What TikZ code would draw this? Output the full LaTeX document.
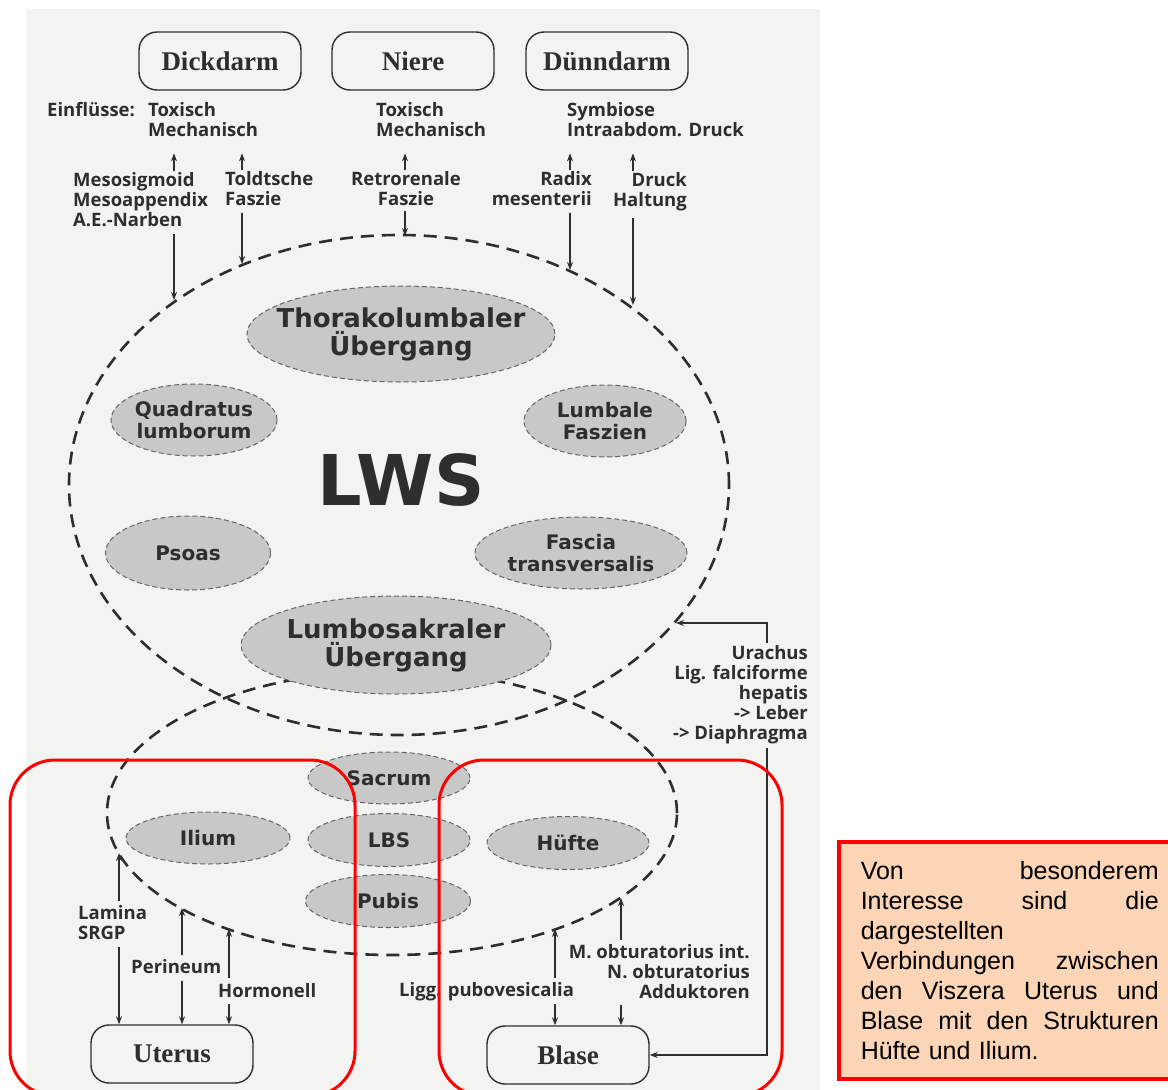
\documentclass[tikz,border=0pt]{standalone}
\usepackage{fontspec}
\setmainfont{Liberation Serif}
\newfontfamily\tagfont{Open Sans}
\newfontfamily\ovalfont{DejaVu Sans}
\newfontfamily\notefont{Liberation Sans}
\usetikzlibrary{arrows.meta,shapes.geometric}
\definecolor{scan}{HTML}{F3F3F1}
\definecolor{ink}{HTML}{2E2E2E}
\definecolor{ovalgray}{HTML}{C8C8C8}
\definecolor{notefill}{HTML}{FBD5B5}
\newcommand\spreadline[1]{\makebox[298pt]{#1}}
\tikzset{
 organ/.style={draw=ink,line width=1.4pt,rounded corners=18pt,minimum width=162pt,minimum height=58pt,inner sep=0,text=ink,font=\bfseries\fontsize{27}{30}\selectfont},
 tag/.style={inner sep=0,align=left,text=ink,font=\tagfont\bfseries\fontsize{18.5}{20}\selectfont},
 ring/.style={ellipse,draw=ink,line width=2.6pt,dash pattern=on 13pt off 8pt,inner sep=0},
 oval/.style={ellipse,draw=black!60,line width=1pt,dash pattern=on 5pt off 3pt,fill=ovalgray,inner sep=-25pt,align=center,text=ink,font=\ovalfont\bfseries\fontsize{20}{22}\selectfont},
 bigoval/.style={oval,font=\ovalfont\bfseries\fontsize{26}{28}\selectfont},
 link/.style={draw=ink,line width=1.5pt,-{Stealth[length=8pt,width=6pt]}},
 focus/.style={draw=red,line width=3pt,rounded corners=45pt}
}
\begin{document}
\begin{tikzpicture}[x=1pt,y=-1pt]
\useasboundingbox (0,0) rectangle (1168,1090);
\clip (0,0) rectangle (1168,1090);
\fill[white] (0,0) rectangle (1168,1090);
\fill[scan] (26,9) rectangle (820,1090);
% the two regions
\node[ring,minimum width=660pt,minimum height=500pt] (lws) at (399,485) {};
\node[ring,minimum width=570pt,minimum height=284pt] (becken) at (392,813) {};
\node[bigoval,minimum width=308pt,minimum height=96pt] (thor) at (401,334) {Thorakolumbaler\\Übergang};
\node[oval,minimum width=166pt,minimum height=72pt] (quad) at (194,420) {Quadratus\\lumborum};
\node[oval,minimum width=162pt,minimum height=72pt] (lfasz) at (605,421) {Lumbale\\Faszien};
\node[oval,minimum width=165pt,minimum height=74pt] (psoas) at (188,553) {Psoas};
\node[oval,minimum width=212pt,minimum height=72pt] (ftrans) at (581,553) {Fascia\\transversalis};
\node[bigoval,minimum width=310pt,minimum height=98pt] (lsak) at (396,645) {Lumbosakraler\\Übergang};
\node[oval,minimum width=162pt,minimum height=52pt] (sacrum) at (389,778) {Sacrum};
\node[oval,minimum width=162pt,minimum height=53pt] (lbs) at (389,840) {LBS};
\node[oval,minimum width=165pt,minimum height=53pt] (pubis) at (388,901) {Pubis};
\node[oval,minimum width=164pt,minimum height=52pt] (ilium) at (208,838) {Ilium};
\node[oval,minimum width=162pt,minimum height=53pt] (huefte) at (568,843) {Hüfte};
\node[inner sep=0,text=ink,font=\ovalfont\bfseries\fontsize{70}{70}\selectfont] (lwsname) at (401,480) {LWS};
% organs
\node[organ] (dick) at (220,61) {Dickdarm};
\node[organ] (niere) at (413,61) {Niere};
\node[organ] (duenn) at (607,61) {Dünndarm};
\node[organ] (uterus) at (172,1054) {Uterus};
\node[organ] (blase) at (568,1055) {Blase};
% upper labels
\node[tag,anchor=west] (einfl) at (47,110) {Einflüsse:};
\node[tag,anchor=west] (dtox) at (148,120) {Toxisch\\Mechanisch};
\node[tag,anchor=west] (ntox) at (376,120) {Toxisch\\Mechanisch};
\node[tag,anchor=west] (dsym) at (567,120) {Symbiose\\Intraabdom. Druck};
\node[tag,anchor=west] (meso) at (73,200) {Mesosigmoid\\Mesoappendix\\A.E.-Narben};
\node[tag,anchor=west] (toldt) at (225,189) {Toldtsche\\Faszie};
\node[tag,align=center] (retro) at (406,189) {Retrorenale\\Faszie};
\node[tag,align=right,anchor=east] (radix) at (592,189) {Radix\\mesenterii};
\node[tag,align=right,anchor=east] (druck) at (687,192) {Druck\\Haltung};
\coordinate (e1) at (174,300);
\coordinate (e2) at (242,264);
\coordinate (e3) at (405,236);
\coordinate (e4) at (570,270);
\coordinate (e5) at (633,305);
\draw[link,shorten <=2pt,shorten >=16pt] (meso.north -| e1) -- (dtox.south -| e1);
\draw[link,shorten <=2pt,shorten >=16pt] (toldt.north -| e2) -- (dtox.south -| e2);
\draw[link,shorten <=2pt,shorten >=16pt] (retro.north -| e3) -- (ntox.south -| e3);
\draw[link,shorten <=2pt,shorten >=16pt] (radix.north -| e4) -- (dsym.south -| e4);
\draw[link,shorten <=2pt,shorten >=16pt] (druck.north -| e5) -- (dsym.south -| e5);
\draw[link,shorten <=7pt] (meso.south -| e1) -- (e1);
\draw[link,shorten <=7pt] (toldt.south -| e2) -- (e2);
\draw[link,shorten <=5pt] (retro.south -| e3) -- (e3);
\draw[link,shorten <=7pt] (radix.south -| e4) -- (e4);
\draw[link,shorten <=7pt] (druck.south -| e5) -- (e5);
% right side
\node[tag,align=right,anchor=east] (urach) at (808,695) {Urachus\\Lig. falciforme\\hepatis\\-> Leber\\-> Diaphragma};
\coordinate (bend) at (767,623);
\coordinate (e6) at (676,623);
\draw[link,shorten <=3pt] (urach.north -| bend) |- (e6);
\draw[link,shorten <=4pt] (urach.south -| bend) |- (blase.east);
% lower labels
\node[tag,anchor=west] (lamina) at (78,923) {Lamina\\SRGP};
\node[tag,anchor=west] (perin) at (131,967) {Perineum};
\node[tag,anchor=west] (hormon) at (218,991) {Hormonell};
\node[tag,anchor=west] (ligg) at (399,992) {Ligg. pubovesicalia};
\node[tag,align=right,anchor=east] (obtur) at (750,972) {M. obturatorius int.\\N. obturatorius\\Adduktoren};
\coordinate (b1) at (119,853);
\coordinate (b2) at (182,908);
\coordinate (b3) at (229,929);
\coordinate (b4) at (555,929);
\coordinate (b5) at (621,898);
\draw[link,shorten <=5pt] (lamina.north -| b1) -- (b1);
\draw[link,shorten <=7pt] (lamina.south -| b1) -- (uterus.north -| b1);
\draw[link,shorten <=5pt] (perin.north -| b2) -- (b2);
\draw[link,shorten <=7pt] (perin.south -| b2) -- (uterus.north -| b2);
\draw[link,shorten <=6pt] (hormon.north -| b3) -- (b3);
\draw[link,shorten <=6pt] (hormon.south -| b3) -- (uterus.north -| b3);
\draw[link,shorten <=5pt] (ligg.north -| b4) -- (b4);
\draw[link,shorten <=3pt] (ligg.south -| b4) -- (blase.north -| b4);
\draw[link,shorten <=5pt] (obtur.north -| b5) -- (b5);
\draw[link,shorten <=6pt] (obtur.south -| b5) -- (blase.north -| b5);
% highlight
\draw[focus] (10,760) rectangle (355,1096);
\draw[focus] (439,760) rectangle (782,1096);
\node[draw=red,line width=3.5pt,fill=notefill,anchor=north west,inner xsep=22pt,inner ysep=19.5pt,text width=298pt,align=left,font=\notefont\fontsize{25}{30}\selectfont] (note) at (837,840) {\spreadline{Von\hfill besonderem}\\
\spreadline{Interesse\hfill sind\hfill die}\\
dargestellten\\
\spreadline{Verbindungen\hfill zwischen}\\
\spreadline{den\hfill Viszera\hfill Uterus\hfill und}\\
\spreadline{Blase\hfill mit\hfill den\hfill Strukturen}\\
Hüfte und Ilium.};
\end{tikzpicture}
\end{document}
